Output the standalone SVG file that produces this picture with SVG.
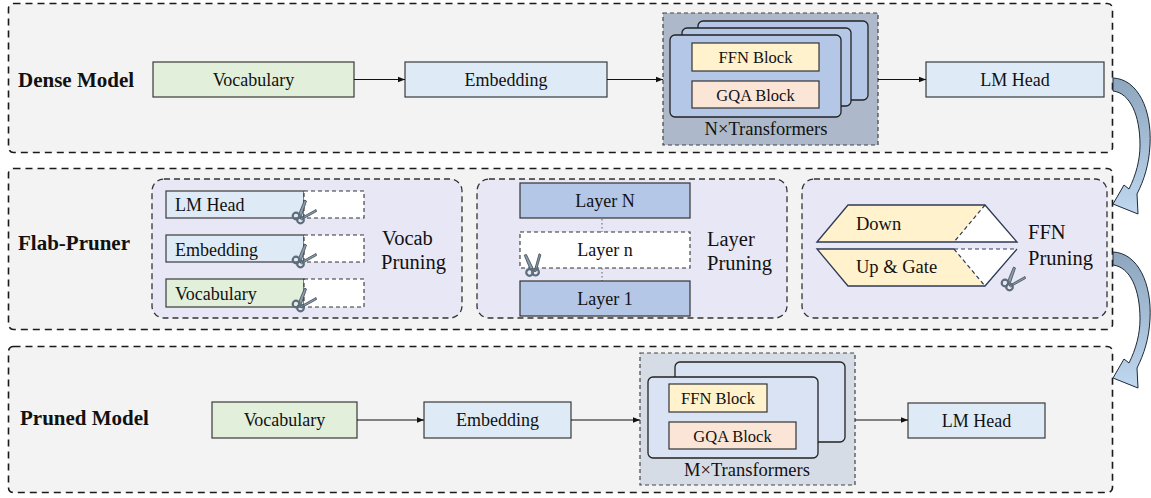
<svg xmlns="http://www.w3.org/2000/svg" xmlns:xlink="http://www.w3.org/1999/xlink" width="1151" height="498" viewBox="0 0 1151 498">
<style>
  text { font-family: "Liberation Serif", "Times New Roman", serif; fill: #111; }
  .lbl { font-size: 21px; font-weight: bold; }
  .box { font-size: 18px; text-anchor: middle; }
  .boxl { font-size: 18px; }
  .blk { font-size: 16.5px; text-anchor: middle; }
  .tl { font-size: 18.5px; text-anchor: middle; }
  .side { font-size: 20.5px; }
  .panel { fill: #f3f3f3; stroke: #1a1a1a; stroke-width: 1.6; stroke-dasharray: 7 5; }
  .sub { fill: #e8e7f5; stroke: #333; stroke-width: 1.3; stroke-dasharray: 6 4; }
  .voc { fill: #e2efda; stroke: #3a3a3a; stroke-width: 1.2; }
  .emb { fill: #deebf7; stroke: #3a3a3a; stroke-width: 1.2; }
  .cut { fill: #ffffff; stroke: #333; stroke-width: 1.1; stroke-dasharray: 4 3; }
  .lay { fill: #b4c7e7; stroke: #333; stroke-width: 1.2; }
  .ffn { fill: #fff2cc; stroke: #333; stroke-width: 1.2; }
  .gqa { fill: #fbe5d6; stroke: #333; stroke-width: 1.2; }
  .tgrp1 { fill: #adb9ca; stroke: #444; stroke-width: 1.2; stroke-dasharray: 4 3; }
  .tgrp2 { fill: #d6dce5; stroke: #444; stroke-width: 1.2; stroke-dasharray: 4 3; }
  .tl1 { fill: #b4c7e7; stroke: #222; stroke-width: 1.3; }
  .tl2 { fill: #dae3f3; stroke: #222; stroke-width: 1.3; }
  .conn { fill: none; stroke: #111; stroke-width: 1.2; marker-end: url(#ah); }
  .dot { fill: none; stroke: #777; stroke-width: 1.2; stroke-dasharray: 1.5 2.5; }
  .fsol { fill: none; stroke: #2e3a55; stroke-width: 1.3; }
  .fdash { fill: none; stroke: #2e3a55; stroke-width: 1.2; stroke-dasharray: 4 3; }
  .carrow { fill: url(#cg); stroke: #1d2a38; stroke-width: 1; }
</style>
<defs>
  <marker id="ah" viewBox="0 0 10 10" refX="10" refY="5" markerWidth="7" markerHeight="7" markerUnits="userSpaceOnUse" orient="auto">
    <path d="M0,1 L10,5 L0,9 Z" fill="#111"/>
  </marker>
  <linearGradient id="cg" x1="0" y1="0" x2="0" y2="1">
    <stop offset="0" stop-color="#8ea6bd"/>
    <stop offset="1" stop-color="#bfd8ef"/>
  </linearGradient>
  <path id="carr" d="M1113,78 C1138,79 1152,110 1150,145 C1149,165 1144,180 1137,194 L1138,214 L1113,204 L1124,185 L1129,189 C1136,175 1140,160 1140,145 C1140,115 1130,93 1113,91 Z"/>
  <symbol id="sc" viewBox="0 0 26 24" overflow="visible">
    <path d="M7.5,15.5 L13.5,1 L15.5,2 L10.5,16.5 Z" fill="#8d9caa" stroke="#3e4b57" stroke-width="0.8"/>
    <path d="M9,19.5 L25,10.5 L25.5,12.5 L10.5,20.8 Z" fill="#8d9caa" stroke="#3e4b57" stroke-width="0.8"/>
    <circle cx="5" cy="17" r="3.3" fill="none" stroke="#5d6c7a" stroke-width="2.2"/>
    <circle cx="9.5" cy="21" r="3.3" fill="none" stroke="#5d6c7a" stroke-width="2.2"/>
  </symbol>
</defs>

<g id="panel-dense">
  <rect class="panel" x="8.5" y="3.5" width="1104" height="149" rx="5"/>
  <text class="lbl" x="18" y="87">Dense Model</text>
</g>
<g id="panel-flab">
  <rect class="panel" x="8.5" y="168.5" width="1104" height="161" rx="5"/>
  <text class="lbl" x="18" y="250">Flab-Pruner</text>
</g>
<g id="panel-pruned">
  <rect class="panel" x="8.5" y="346.5" width="1104" height="146" rx="5"/>
  <text class="lbl" x="20" y="425">Pruned Model</text>
</g>

<!-- Dense model nodes -->
<g id="d-vocab">
  <rect class="voc" x="153" y="62" width="201" height="35"/>
  <text class="box" x="253.5" y="86">Vocabulary</text>
</g>
<g id="d-emb">
  <rect class="emb" x="405" y="62" width="202" height="35"/>
  <text class="box" x="506" y="86">Embedding</text>
</g>
<g id="d-trans">
  <rect class="tgrp1" x="663" y="13" width="215" height="132"/>
  <rect class="tl1" x="698" y="21" width="170" height="79" rx="5"/>
  <rect class="tl1" x="682" y="28" width="169" height="78" rx="5"/>
  <rect class="tl1" x="670" y="35" width="171" height="82" rx="5"/>
  <rect class="ffn" x="692" y="43" width="127" height="28"/>
  <text class="blk" x="755.5" y="63">FFN Block</text>
  <rect class="gqa" x="692" y="81" width="127" height="27"/>
  <text class="blk" x="755.5" y="100.5">GQA Block</text>
  <text class="tl" x="766" y="135">N×Transformers</text>
</g>
<g id="d-lmhead">
  <rect class="emb" x="926" y="62" width="178" height="35"/>
  <text class="box" x="1015" y="86">LM Head</text>
</g>

<!-- Vocab pruning -->
<g id="vocab-pruning">
  <rect class="sub" x="152" y="179" width="310" height="139" rx="12"/>
  <rect class="emb" x="166" y="191" width="138" height="27"/>
  <rect class="cut" x="304" y="191" width="60" height="27"/>
  <text class="boxl" x="175" y="211">LM Head</text>
  <rect class="emb" x="166" y="235" width="138" height="27"/>
  <rect class="cut" x="304" y="235" width="60" height="27"/>
  <text class="boxl" x="175" y="256">Embedding</text>
  <rect class="voc" x="166" y="279" width="138" height="28"/>
  <rect class="cut" x="304" y="279" width="60" height="28"/>
  <text class="boxl" x="175" y="300">Vocabulary</text>
  <use href="#sc" x="291" y="199" width="26" height="24"/>
  <use href="#sc" x="291" y="243" width="26" height="24"/>
  <use href="#sc" x="291" y="287" width="26" height="24"/>
  <text class="side" x="382" y="245">Vocab</text>
  <text class="side" x="381" y="269">Pruning</text>
</g>

<!-- Layer pruning -->
<g id="layer-pruning">
  <rect class="sub" x="477" y="179" width="310" height="139" rx="12"/>
  <rect class="lay" x="520" y="183" width="170" height="35"/>
  <text class="box" x="605" y="207">Layer N</text>
  <line class="dot" x1="602" y1="219" x2="602" y2="232"/>
  <rect class="cut" x="520" y="232" width="170" height="36"/>
  <text class="box" x="605" y="256">Layer n</text>
  <line class="dot" x1="602" y1="268" x2="602" y2="281"/>
  <rect class="lay" x="520" y="281" width="170" height="35"/>
  <text class="box" x="605" y="305">Layer 1</text>
  <use href="#sc" x="0" y="0" width="26" height="24" transform="translate(514,264) rotate(-45)"/>
  <text class="side" x="707" y="246">Layer</text>
  <text class="side" x="707" y="270">Pruning</text>
</g>

<!-- FFN pruning -->
<g id="ffn-pruning">
  <rect class="sub" x="802" y="179" width="305" height="139" rx="12"/>
  <polygon points="848,205 985,205 954,242 817,242" fill="#fff2cc"/>
  <polygon points="985,205 1017,242 954,242" fill="#ffffff"/>
  <path class="fsol" d="M817,242 L848,205 L985,205 L1017,242 Z"/>
  <line class="fdash" x1="985" y1="205" x2="954" y2="242"/>
  <polygon points="817,249 954,249 985,286 848,286" fill="#fff2cc"/>
  <polygon points="954,249 1017,249 985,286" fill="#ffffff"/>
  <path class="fsol" d="M954,249 L817,249 L848,286 L985,286 L1017,249"/>
  <line class="fdash" x1="954" y1="249" x2="1017" y2="249"/>
  <line class="fdash" x1="954" y1="249" x2="985" y2="286"/>
  <text class="boxl" x="856" y="230" style="font-size:18.5px">Down</text>
  <text class="boxl" x="856" y="273" style="font-size:18.5px">Up &amp; Gate</text>
  <use href="#sc" x="1000" y="266" width="26" height="24"/>
  <text class="side" x="1028" y="239">FFN</text>
  <text class="side" x="1028" y="265">Pruning</text>
</g>

<!-- Pruned model nodes -->
<g id="p-vocab">
  <rect class="voc" x="212" y="402" width="145" height="36"/>
  <text class="box" x="284.5" y="426">Vocabulary</text>
</g>
<g id="p-emb">
  <rect class="emb" x="424" y="402" width="147" height="36"/>
  <text class="box" x="497.5" y="426">Embedding</text>
</g>
<g id="p-trans">
  <rect class="tgrp2" x="640" y="353" width="215" height="132"/>
  <rect class="tl2" x="675" y="362" width="170" height="80" rx="5"/>
  <rect class="tl2" x="648" y="377" width="170" height="81" rx="5"/>
  <rect class="ffn" x="669" y="384" width="98" height="28"/>
  <text class="blk" x="718" y="404">FFN Block</text>
  <rect class="gqa" x="669" y="422" width="127" height="27"/>
  <text class="blk" x="732.5" y="441.5">GQA Block</text>
  <text class="tl" x="747" y="476">M×Transformers</text>
</g>
<g id="p-lmhead">
  <rect class="emb" x="908" y="403" width="137" height="35"/>
  <text class="box" x="976.5" y="427">LM Head</text>
</g>

<g id="connectors">
  <line class="conn" x1="354" y1="79.5" x2="405" y2="79.5"/>
  <line class="conn" x1="607" y1="79.5" x2="663" y2="79.5"/>
  <line class="conn" x1="878" y1="79.5" x2="926" y2="79.5"/>
  <line class="conn" x1="357" y1="420" x2="424" y2="420"/>
  <line class="conn" x1="571" y1="420" x2="640" y2="420"/>
  <line class="conn" x1="855" y1="420" x2="908" y2="420"/>
  <use href="#carr" class="carrow"/>
  <use href="#carr" class="carrow" transform="translate(0,174)"/>
</g>
</svg>
